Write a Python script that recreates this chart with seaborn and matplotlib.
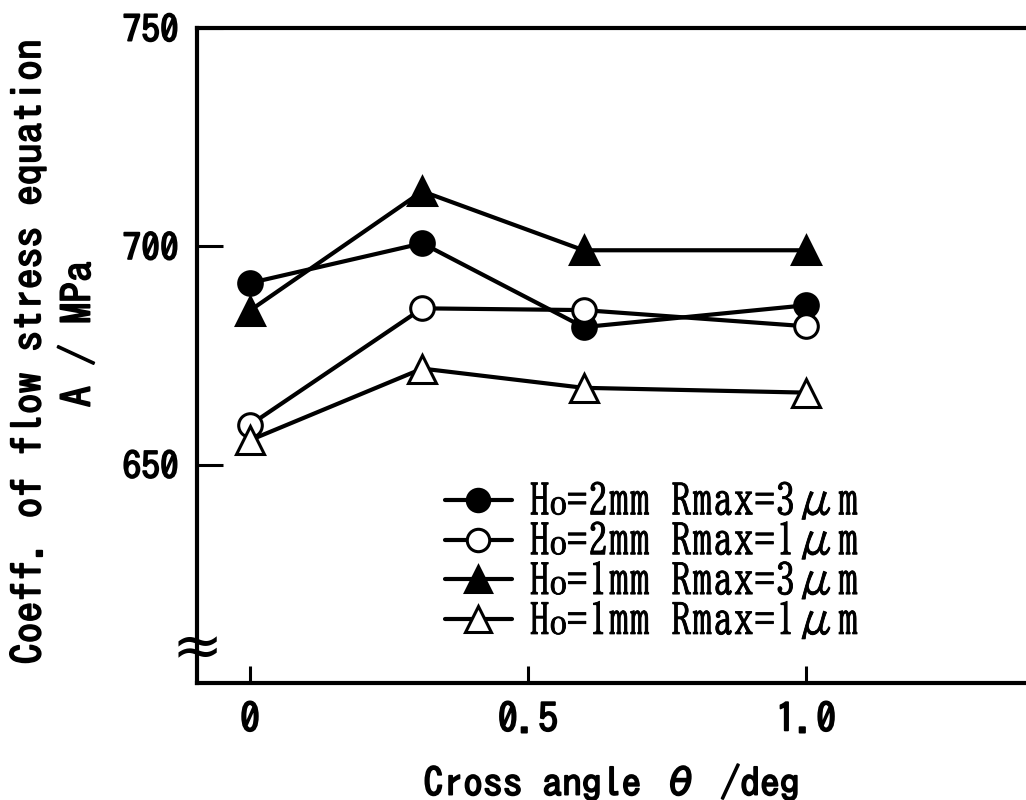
import matplotlib
matplotlib.use("Agg")
import matplotlib.pyplot as plt
import matplotlib.patheffects as pe
import seaborn as sns
import pandas as pd
from matplotlib import font_manager as fm

sns.set_theme(style="white")
plt.rcParams.update({"text.color": "black", "axes.labelcolor": "black",
                     "xtick.color": "black", "ytick.color": "black"})

cross_angle = [0.0, 0.31, 0.6, 1.0]
h2_r3 = [691.6, 700.7, 681.5, 686.5]
h2_r1 = [659.1, 685.8, 685.4, 681.7]
h1_r3 = [685.3, 712.6, 699.1, 699.1]
h1_r1 = [655.6, 672.0, 667.6, 666.5]
series_labels = ["H₀=2mm Rmax=3μm", "H₀=2mm Rmax=1μm",
                 "H₀=1mm Rmax=3μm", "H₀=1mm Rmax=1μm"]
x_ticks = [0, 0.5, 1.0]
x_tick_labels = ["0", "0.5", "1.0"]
y_ticks = [650, 700, 750]
y_tick_labels = ["650", "700", "750"]

GOTHIC = ["IPAGothic", "DejaVu Sans"]
MINCHO = ["IPAMincho", "BIZ UDMincho", "DejaVu Serif"]
bold = [pe.withStroke(linewidth=1.3, foreground="black")]
semibold = [pe.withStroke(linewidth=0.6, foreground="black")]

fig = plt.figure(figsize=(10.26, 8), dpi=100)
ax = fig.add_axes([197/1026, 117/800, 843/1026, 655/800])

series = [h2_r3, h2_r1, h1_r3, h1_r1]
styles = [("o", "black"), ("o", "white"), ("^", "black"), ("^", "white")]
for vals, (m, fc), lab in zip(series, styles, series_labels):
    df = pd.DataFrame({"x": cross_angle, "y": vals})
    ms = 17 if m == "o" else 20
    sns.lineplot(data=df, x="x", y="y", ax=ax, color="black", linewidth=3,
                 marker=m, markersize=ms, markerfacecolor=fc,
                 markeredgecolor="black", markeredgewidth=2.2, label=lab)

ax.set_xlim(-0.0953, 1.421)
ax.set_ylim(600, 750)
ax.set_xticks(x_ticks)
ax.set_xticklabels(x_tick_labels, fontdict={"family": GOTHIC, "size": 29})
ax.set_yticks(y_ticks)
ax.set_yticklabels(y_tick_labels, fontdict={"family": GOTHIC, "size": 27})
for t in ax.get_xticklabels() + ax.get_yticklabels():
    t.set_path_effects(bold)
ax.tick_params(axis="y", direction="in", length=19, width=2.2, pad=13, left=True)
ax.tick_params(axis="x", direction="in", length=12, width=2.2, pad=14, bottom=True)
for s in ax.spines.values():
    s.set_linewidth(3)
    s.set_color("black")
ax.set_xlabel("")
ax.set_ylabel("")

ax.text(0, 0.05, "≈", transform=ax.transAxes, ha="center", va="center",
        fontsize=44, color="black")

lab_kw = dict(family=GOTHIC, path_effects=bold)
fig.text(28/1026, 1 - 352/800, "Coeff. of flow stress equation", rotation=90,
         ha="center", va="center", size=30, **lab_kw)
fig.text(77/1026, 1 - 334/800, "A / MPa", rotation=90,
         ha="center", va="center", size=30, **lab_kw)
fig.text(612/1026, 1 - 782/800, "Cross angle θ /deg", ha="center", va="center",
         size=28.5, **lab_kw)

leg = ax.legend(loc="upper left", bbox_to_anchor=(445/1026, 1 - 481/800),
                bbox_transform=fig.transFigure, frameon=False,
                prop=fm.FontProperties(family=MINCHO, size=30),
                handlelength=1.6, handletextpad=0.42, labelspacing=0.03,
                borderaxespad=0, borderpad=0, markerscale=0.95)
for t in leg.get_texts():
    t.set_path_effects(semibold)

fig.savefig("out.png", dpi=100)
